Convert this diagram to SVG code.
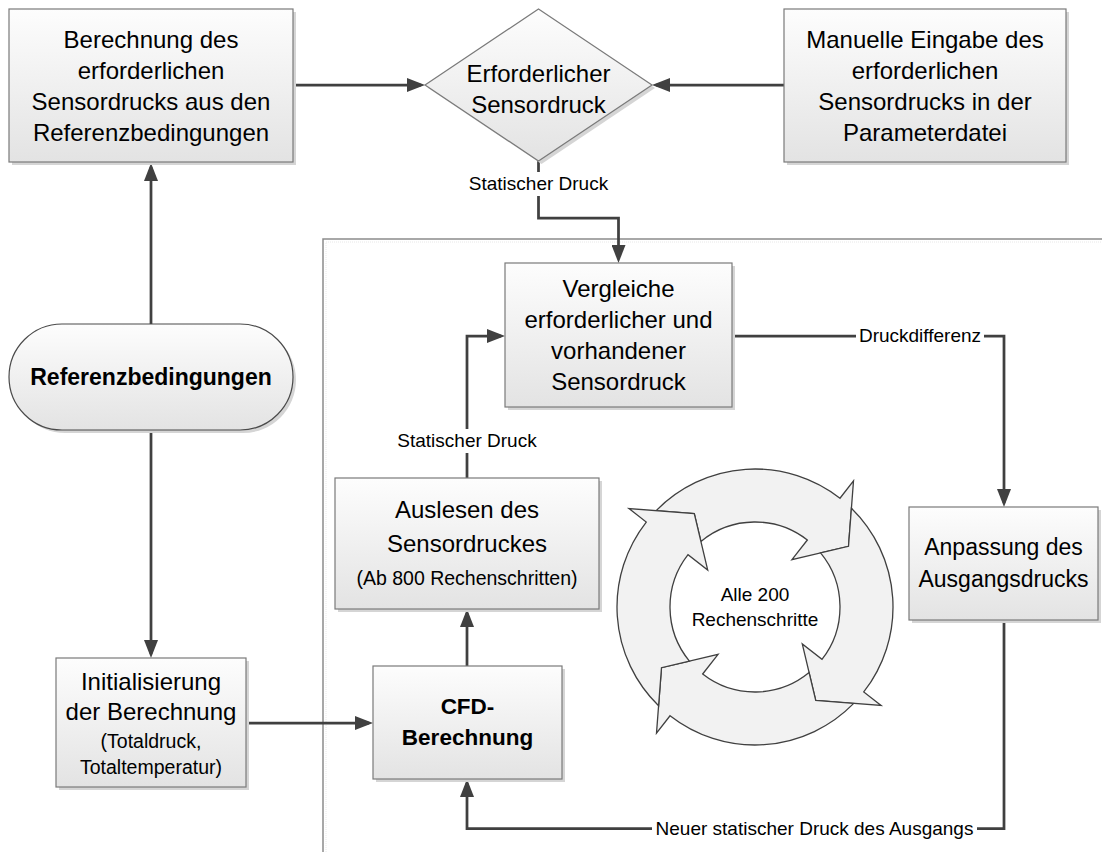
<svg xmlns="http://www.w3.org/2000/svg" width="1102" height="852" viewBox="0 0 1102 852">
<style>
.box{fill:url(#gb);stroke:#7a7a7a;stroke-width:1.2}
.sh{fill:#d5d5d5}
.t{font-family:"Liberation Sans",Arial,sans-serif;font-size:24px;fill:#000;text-anchor:middle}
.s{font-family:"Liberation Sans",Arial,sans-serif;font-size:19.5px;fill:#000;text-anchor:middle}
.lb{font-family:"Liberation Sans",Arial,sans-serif;font-size:19px;fill:#000;text-anchor:middle}
.b{font-weight:bold}
.c{fill:none;stroke:#404040;stroke-width:2.75}
.ca{fill:none;stroke:#404040;stroke-width:2.75;marker-end:url(#ah)}
.ring{fill:#f2f2f2;stroke:#404040;stroke-width:1.3;stroke-linejoin:miter}
</style>
<defs>
<linearGradient id="gb" x1="0" y1="0" x2="0" y2="1">
<stop offset="0" stop-color="#fdfdfd"/>
<stop offset="1" stop-color="#e3e3e3"/>
</linearGradient>
<marker id="ah" viewBox="0 0 18 14" refX="14" refY="7" markerWidth="18" markerHeight="14" markerUnits="userSpaceOnUse" orient="auto">
<path d="M0,0 L18,7 L0,14 Z" fill="#404040"/>
</marker>
</defs>
<rect width="1102" height="852" fill="#ffffff"/>

<g id="frame">
<path d="M326,852 V242 H1102" fill="none" stroke="#e8e8e8" stroke-width="1" stroke-dasharray="1 1"/>
<path d="M323,852 V239 H1102" fill="none" stroke="#8c8c8c" stroke-width="1.5"/>
</g>

<g id="connectors">
<path class="ca" d="M293,85 H421"/>
<path class="ca" d="M784,85 H656"/>
<path class="c" d="M538.5,161 V172"/>
<path class="ca" d="M538.5,196 V218 H618.5 V259"/>
<path class="ca" d="M151,324 V167"/>
<path class="ca" d="M151,430 V654"/>
<path class="ca" d="M246,723 H369"/>
<path class="ca" d="M467,666 V613"/>
<path class="c" d="M467,478 V453"/>
<path class="ca" d="M467,429 V336 H501"/>
<path class="c" d="M732,336 H856"/>
<path class="ca" d="M984,336 H1004 V503"/>
<path class="c" d="M1004,620 V828.5 H977"/>
<path class="ca" d="M652,828.5 H467 V783"/>
<text class="lb" x="538.5" y="190">Statischer Druck</text>
<text class="lb" x="467" y="447">Statischer Druck</text>
<text class="lb" x="920" y="342">Druckdifferenz</text>
<text class="lb" x="814.5" y="835">Neuer statischer Druck des Ausgangs</text>
</g>

<g id="n-berechnung">
<rect class="sh" x="12" y="12" width="284" height="153"/>
<rect class="box" x="9" y="9" width="284" height="153"/>
<text class="t"><tspan x="151" y="48">Berechnung des</tspan><tspan x="151" y="79">erforderlichen</tspan><tspan x="151" y="110">Sensordrucks aus den</tspan><tspan x="151" y="141">Referenzbedingungen</tspan></text>
</g>

<g id="n-erforderlich">
<polygon class="sh" points="541.5,12 655,88 541.5,164 428,88"/>
<polygon class="box" points="538.5,9 652,85 538.5,161 425,85"/>
<text class="t"><tspan x="538.5" y="82">Erforderlicher</tspan><tspan x="538.5" y="113">Sensordruck</tspan></text>
</g>

<g id="n-manuell">
<rect class="sh" x="787" y="12" width="282" height="153"/>
<rect class="box" x="784" y="9" width="282" height="153"/>
<text class="t"><tspan x="925" y="48">Manuelle Eingabe des</tspan><tspan x="925" y="79">erforderlichen</tspan><tspan x="925" y="110">Sensordrucks in der</tspan><tspan x="925" y="141">Parameterdatei</tspan></text>
</g>

<g id="n-referenz">
<rect class="sh" x="12" y="327" width="284" height="106" rx="53"/>
<rect x="9" y="324" width="284" height="106" rx="53" fill="url(#gb)" stroke="#4a4a4a" stroke-width="1.2"/>
<text class="t b" x="151" y="385" style="font-size:23px">Referenzbedingungen</text>
</g>

<g id="n-vergleiche">
<rect class="sh" x="508" y="266" width="227" height="144"/>
<rect class="box" x="505" y="263" width="227" height="144"/>
<text class="t"><tspan x="618.5" y="297">Vergleiche</tspan><tspan x="618.5" y="328">erforderlicher und</tspan><tspan x="618.5" y="359">vorhandener</tspan><tspan x="618.5" y="390">Sensordruck</tspan></text>
</g>

<g id="n-auslesen">
<rect class="sh" x="338" y="481" width="264" height="131"/>
<rect class="box" x="335" y="478" width="264" height="131"/>
<text class="t"><tspan x="467" y="518">Auslesen des</tspan><tspan x="467" y="552">Sensordruckes</tspan></text>
<text class="s" x="467" y="585">(Ab 800 Rechenschritten)</text>
</g>

<g id="n-init">
<rect class="sh" x="59" y="661" width="190" height="129"/>
<rect class="box" x="56" y="658" width="190" height="129"/>
<text class="t"><tspan x="151" y="690">Initialisierung</tspan><tspan x="151" y="720">der Berechnung</tspan></text>
<text class="s"><tspan x="151" y="748">(Totaldruck,</tspan><tspan x="151" y="774">Totaltemperatur)</tspan></text>
</g>

<g id="n-cfd">
<rect class="sh" x="376" y="669" width="189" height="113"/>
<rect class="box" x="373" y="666" width="189" height="113"/>
<text class="t b" style="font-size:22.5px"><tspan x="467.5" y="714">CFD-</tspan><tspan x="467.5" y="745">Berechnung</tspan></text>
</g>

<g id="n-anpassung">
<rect class="sh" x="912" y="510" width="189" height="113"/>
<rect class="box" x="909" y="507" width="189" height="113"/>
<text class="t" style="font-size:23px"><tspan x="1003.5" y="555">Anpassung des</tspan><tspan x="1003.5" y="587">Ausgangsdrucks</tspan></text>
</g>

<g id="n-zyklus">
<path class="ring" d="M656.27,510.58 A138,138 0 0 1 839.97,498.26 L853.51,480.92 L848.51,546.28 L791.94,559.72 L807.33,540.02 A85,85 0 0 0 700.92,541.42 L694.28,513.49 Z"/>
<path class="ring" d="M851.42,508.27 A138,138 0 0 1 863.74,691.97 L881.08,705.51 L815.72,700.51 L802.28,643.94 L821.98,659.33 A85,85 0 0 0 820.58,552.92 L848.51,546.28 Z"/>
<path class="ring" d="M853.73,703.42 A138,138 0 0 1 670.03,715.74 L656.49,733.08 L661.49,667.72 L718.06,654.28 L702.67,673.98 A85,85 0 0 0 809.08,672.58 L815.72,700.51 Z"/>
<path class="ring" d="M658.58,705.73 A138,138 0 0 1 646.26,522.03 L628.92,508.49 L694.28,513.49 L707.72,570.06 L688.02,554.67 A85,85 0 0 0 689.42,661.08 L661.49,667.72 Z"/>
<text class="lb"><tspan x="755" y="601">Alle 200</tspan><tspan x="755" y="626">Rechenschritte</tspan></text>
</g>
</svg>
